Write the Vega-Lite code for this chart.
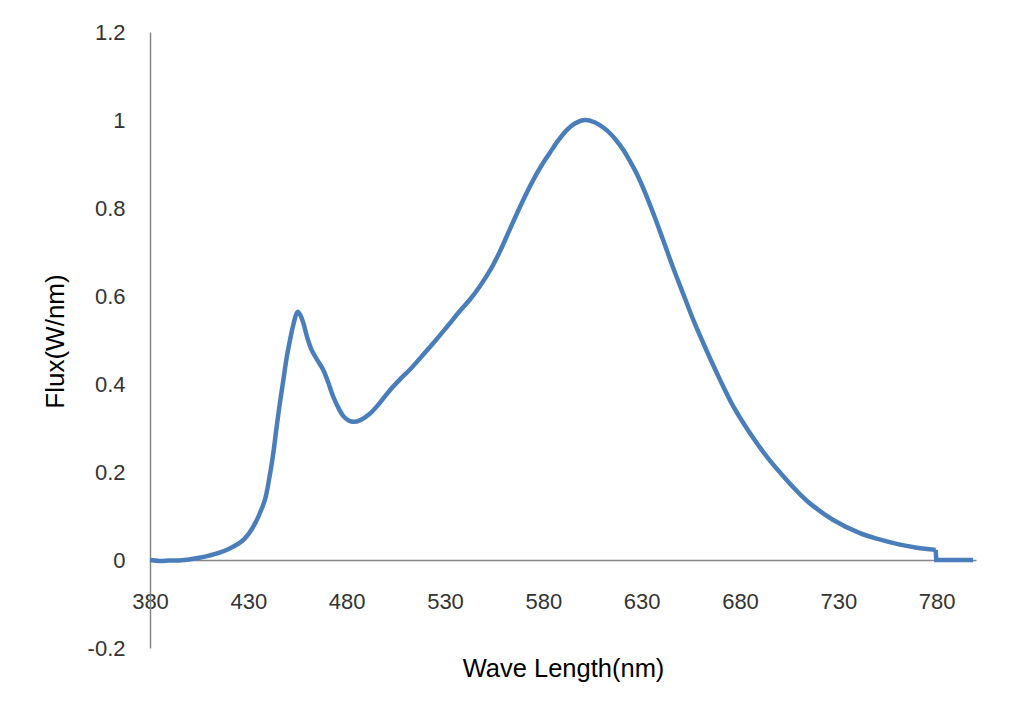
{
  "$schema": "https://vega.github.io/schema/vega-lite/v6.json",
  "width": 826,
  "height": 616,
  "autosize": {"type": "none"},
  "padding": {"left": 150, "top": 32, "right": 33, "bottom": 62},
  "background": "white",
  "config": {"view": {"stroke": null}, "font": "Liberation Sans"},
  "data": {"values": [
    {"nm": 380, "flux": 0.000, "seg": "a"}, {"nm": 385, "flux": -0.002, "seg": "a"}, {"nm": 390, "flux": -0.001, "seg": "a"}, {"nm": 395, "flux": -0.001, "seg": "a"},
    {"nm": 400, "flux": 0.001, "seg": "a"}, {"nm": 405, "flux": 0.005, "seg": "a"}, {"nm": 410, "flux": 0.01, "seg": "a"}, {"nm": 415, "flux": 0.016, "seg": "a"},
    {"nm": 420, "flux": 0.025, "seg": "a"}, {"nm": 425, "flux": 0.037, "seg": "a"}, {"nm": 428, "flux": 0.048, "seg": "a"}, {"nm": 431, "flux": 0.065, "seg": "a"},
    {"nm": 434, "flux": 0.088, "seg": "a"}, {"nm": 436, "flux": 0.108, "seg": "a"}, {"nm": 438.5, "flux": 0.138, "seg": "a"}, {"nm": 440.5, "flux": 0.182, "seg": "a"},
    {"nm": 442.7, "flux": 0.243, "seg": "a"}, {"nm": 444.4, "flux": 0.303, "seg": "a"}, {"nm": 446, "flux": 0.355, "seg": "a"}, {"nm": 447.8, "flux": 0.409, "seg": "a"},
    {"nm": 449.5, "flux": 0.46, "seg": "a"}, {"nm": 451.2, "flux": 0.5, "seg": "a"}, {"nm": 453, "flux": 0.537, "seg": "a"}, {"nm": 455, "flux": 0.564, "seg": "a"},
    {"nm": 456.5, "flux": 0.556, "seg": "a"}, {"nm": 458, "flux": 0.538, "seg": "a"}, {"nm": 460, "flux": 0.505, "seg": "a"}, {"nm": 462.2, "flux": 0.477, "seg": "a"},
    {"nm": 465, "flux": 0.455, "seg": "a"}, {"nm": 468.1, "flux": 0.432, "seg": "a"}, {"nm": 470.5, "flux": 0.405, "seg": "a"}, {"nm": 473.2, "flux": 0.371, "seg": "a"},
    {"nm": 476, "flux": 0.344, "seg": "a"}, {"nm": 478.3, "flux": 0.327, "seg": "a"}, {"nm": 481, "flux": 0.317, "seg": "a"}, {"nm": 483.4, "flux": 0.314, "seg": "a"},
    {"nm": 487, "flux": 0.318, "seg": "a"}, {"nm": 491.9, "flux": 0.333, "seg": "a"}, {"nm": 497, "flux": 0.358, "seg": "a"}, {"nm": 502, "flux": 0.386, "seg": "a"},
    {"nm": 507, "flux": 0.41, "seg": "a"}, {"nm": 512.2, "flux": 0.433, "seg": "a"}, {"nm": 518, "flux": 0.462, "seg": "a"}, {"nm": 524, "flux": 0.4925, "seg": "a"},
    {"nm": 528, "flux": 0.514, "seg": "a"}, {"nm": 532.5, "flux": 0.538, "seg": "a"}, {"nm": 537, "flux": 0.563, "seg": "a"}, {"nm": 542.7, "flux": 0.592, "seg": "a"},
    {"nm": 548, "flux": 0.624, "seg": "a"}, {"nm": 552.9, "flux": 0.658, "seg": "a"}, {"nm": 558, "flux": 0.702, "seg": "a"}, {"nm": 563, "flux": 0.752, "seg": "a"},
    {"nm": 569, "flux": 0.811, "seg": "a"}, {"nm": 574.9, "flux": 0.864, "seg": "a"}, {"nm": 579, "flux": 0.896, "seg": "a"}, {"nm": 583.4, "flux": 0.926, "seg": "a"},
    {"nm": 587.5, "flux": 0.953, "seg": "a"}, {"nm": 591.9, "flux": 0.977, "seg": "a"}, {"nm": 596, "flux": 0.992, "seg": "a"}, {"nm": 601, "flux": 1.0, "seg": "a"},
    {"nm": 606, "flux": 0.995, "seg": "a"}, {"nm": 612.2, "flux": 0.977, "seg": "a"}, {"nm": 616.5, "flux": 0.957, "seg": "a"}, {"nm": 620.7, "flux": 0.932, "seg": "a"},
    {"nm": 624, "flux": 0.907, "seg": "a"}, {"nm": 627.5, "flux": 0.878, "seg": "a"}, {"nm": 631, "flux": 0.843, "seg": "a"}, {"nm": 635.9, "flux": 0.788, "seg": "a"},
    {"nm": 641, "flux": 0.726, "seg": "a"}, {"nm": 646.1, "flux": 0.663, "seg": "a"}, {"nm": 651.2, "flux": 0.604, "seg": "a"}, {"nm": 656.3, "flux": 0.545, "seg": "a"},
    {"nm": 663.1, "flux": 0.475, "seg": "a"}, {"nm": 669.8, "flux": 0.41, "seg": "a"}, {"nm": 676.6, "flux": 0.349, "seg": "a"}, {"nm": 685.1, "flux": 0.288, "seg": "a"},
    {"nm": 693.6, "flux": 0.235, "seg": "a"}, {"nm": 703.7, "flux": 0.182, "seg": "a"}, {"nm": 712, "flux": 0.143, "seg": "a"}, {"nm": 716, "flux": 0.127, "seg": "a"},
    {"nm": 727.4, "flux": 0.091, "seg": "a"}, {"nm": 741, "flux": 0.061, "seg": "a"}, {"nm": 750, "flux": 0.048, "seg": "a"}, {"nm": 761.3, "flux": 0.035, "seg": "a"},
    {"nm": 770, "flux": 0.028, "seg": "a"}, {"nm": 779.5, "flux": 0.023, "seg": "a"},
    {"nm": 779.5, "flux": 0.023, "seg": "b"}, {"nm": 779.8, "flux": 0.0, "seg": "b"}, {"nm": 790, "flux": 0.0, "seg": "b"}, {"nm": 798.5, "flux": 0.0, "seg": "b"}
  ]},
  "encoding": {
    "x": {
      "field": "nm", "type": "quantitative",
      "scale": {"domain": [380, 800], "nice": false, "zero": false},
      "axis": {
        "title": "Wave Length(nm)",
        "values": [380, 430, 480, 530, 580, 630, 680, 730, 780],
        "labelFlush": false, "labelOverlap": false,
        "offset": -88,
        "grid": false, "ticks": false, "tickSize": 0,
        "domainColor": "#868686", "domainWidth": 1.5,
        "labelFontSize": 22, "labelColor": "#333333", "labelPadding": 31,
        "labelFont": "Liberation Sans",
        "titleFontSize": 25.5, "titleFontWeight": "normal", "titleColor": "#000000",
        "titleFont": "Liberation Sans",
        "titleX": 413, "titleY": 116, "titleBaseline": "alphabetic", "titleAlign": "center"
      }
    },
    "y": {
      "field": "flux", "type": "quantitative",
      "scale": {"domain": [-0.2, 1.2], "nice": false, "zero": false},
      "axis": {
        "title": "Flux(W/nm)",
        "values": [-0.2, 0, 0.2, 0.4, 0.6, 0.8, 1, 1.2],
        "labelExpr": "toString(round(datum.value*10)/10)",
        "labelOverlap": false,
        "grid": false, "ticks": false, "tickSize": 0,
        "domainColor": "#868686", "domainWidth": 1.5,
        "labelFontSize": 22, "labelColor": "#333333", "labelPadding": 25,
        "labelFont": "Liberation Sans",
        "titleFontSize": 26, "titleFontWeight": "normal", "titleColor": "#000000",
        "titleFont": "Liberation Sans",
        "titleX": -87, "titleY": 309, "titleAngle": -90, "titleBaseline": "alphabetic", "titleAlign": "center"
      }
    }
  },
  "layer": [
    {
      "transform": [{"filter": "datum.seg == 'a'"}],
      "mark": {"type": "line", "color": "#4a7ebb", "strokeWidth": 4.5, "interpolate": "catmull-rom", "clip": false}
    },
    {
      "transform": [{"filter": "datum.seg == 'b'"}],
      "mark": {"type": "line", "color": "#4a7ebb", "strokeWidth": 4.5, "interpolate": "linear", "clip": false}
    }
  ]
}
